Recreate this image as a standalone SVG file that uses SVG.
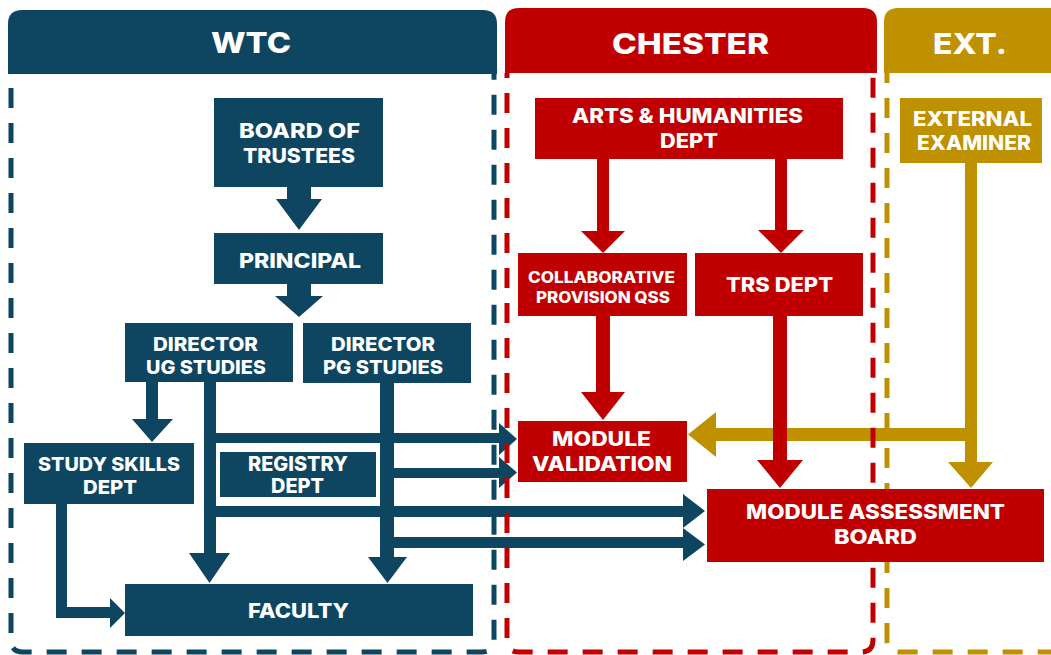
<svg xmlns="http://www.w3.org/2000/svg" width="1051" height="655" viewBox="0 0 1051 655">
  <style>
    .blue { fill: #0e4661; }
    .red { fill: #c00000; }
    .gold { fill: #bf9000; }
    .zone { fill: none; stroke-width: 5; stroke-dasharray: 20 15; }
    .t { font-family: Inter, "Liberation Sans", "DejaVu Sans", sans-serif; font-weight: 800; fill: #ffffff; text-anchor: middle; }
    .h { font-size: 29px; }
    .b { font-size: 20px; }
    .c { font-size: 19px; }
    .s { font-size: 15.5px; }
  </style>
  <rect width="1051" height="655" fill="#ffffff"/>

  <!-- connectors -->
  <g id="connectors">
    <!-- WTC internal flow -->
    <path class="blue" d="M287,187 H311 V199 H322 L299,230 L276,199 H287 Z"/>
    <path class="blue" d="M287,284 H311 V296 H323 L299,317 L275,296 H287 Z"/>
    <path class="blue" d="M146,382 H158 V419 H173 L152,442 L132,419 H146 Z"/>
    <path class="blue" d="M204,382 H216 V553 H230 L209.5,583 L189,553 H204 Z"/>
    <path class="blue" d="M380,383 H394 V557 H407 L387.5,583 L368,557 H380 Z"/>
    <path class="blue" d="M56,504 H67 V607 H110 V598 L125,613 L110,628 V618 H56 Z"/>
    <!-- WTC to Chester -->
    <path class="blue" d="M210,433 H499 V423 L517,439 L499,455 V443 H210 Z"/>
    <path class="blue" d="M390,468 H499 V457 L517,472.5 L499,488 V478 H390 Z"/>
    <path class="blue" d="M210,506 H683 V494 L705,511 L683,528 V517 H210 Z"/>
    <path class="blue" d="M390,537 H683 V528 L705,544.5 L683,561 V548 H390 Z"/>
    <!-- external examiner -->
    <path class="gold" d="M965,163 H977 V462 H993 L971,488 L948,462 H965 V441 H716 V457 L688,434.5 L716,412 V428 H965 Z"/>
    <!-- Chester internal flow -->
    <path class="red" d="M597,159 H609 V231 H625 L603,253 L581,231 H597 Z"/>
    <path class="red" d="M775,159 H787 V230 H804 L781,253 L758,230 H775 Z"/>
    <path class="red" d="M596,316 H610 V392 H625 L603,420 L581,392 H596 Z"/>
    <path class="red" d="M773,316 H787 V460 H803 L780,488 L757,460 H773 Z"/>
  </g>

  <!-- zone borders -->
  <g id="zones">
    <path class="zone" stroke="#0e4661" stroke-dashoffset="21" d="M11,74 V640 Q11,652 23,652 H482 Q494,652 494,640 V74"/>
    <path class="zone" stroke="#c00000" stroke-dashoffset="15" d="M507,73 V640 Q507,652 519,652 H861 Q873,652 873,640 V73"/>
    <path class="zone" stroke="#bf9000" stroke-dashoffset="10" d="M887,73 V640 Q887,652 899,652 H1070"/>
  </g>

  <!-- zone headers -->
  <g id="header-wtc">
    <path class="blue" d="M8,74 V24 Q8,10 22,10 H483 Q497,10 497,24 V74 Z"/>
    <text class="t h" x="251" y="53" textLength="80" lengthAdjust="spacingAndGlyphs">WTC</text>
  </g>
  <g id="header-chester">
    <path class="red" d="M505,73 V22 Q505,8 519,8 H863 Q877,8 877,22 V73 Z"/>
    <text class="t h" x="690.5" y="54" textLength="157" lengthAdjust="spacingAndGlyphs">CHESTER</text>
  </g>
  <g id="header-ext">
    <path class="gold" d="M884,73 V22 Q884,8 898,8 H1070 V73 Z"/>
    <text class="t h" x="970" y="54" textLength="74" lengthAdjust="spacingAndGlyphs">EXT.</text>
  </g>

  <!-- WTC nodes -->
  <g id="board-of-trustees">
    <rect class="blue" x="214" y="98" width="169" height="89"/>
    <text class="t b" x="299.5" y="138" textLength="121" lengthAdjust="spacingAndGlyphs">BOARD OF</text>
    <text class="t b" x="299" y="163" textLength="112" lengthAdjust="spacingAndGlyphs">TRUSTEES</text>
  </g>
  <g id="principal">
    <rect class="blue" x="214" y="233" width="169" height="51"/>
    <text class="t b" x="300" y="268" textLength="122" lengthAdjust="spacingAndGlyphs">PRINCIPAL</text>
  </g>
  <g id="director-ug">
    <rect class="blue" x="125" y="323" width="168" height="59"/>
    <text class="t c" x="205.5" y="351" textLength="105" lengthAdjust="spacingAndGlyphs">DIRECTOR</text>
    <text class="t c" x="206" y="373.5" textLength="120" lengthAdjust="spacingAndGlyphs">UG STUDIES</text>
  </g>
  <g id="director-pg">
    <rect class="blue" x="303" y="323" width="168" height="60"/>
    <text class="t c" x="383" y="351" textLength="104" lengthAdjust="spacingAndGlyphs">DIRECTOR</text>
    <text class="t c" x="383" y="373.5" textLength="120" lengthAdjust="spacingAndGlyphs">PG STUDIES</text>
  </g>
  <g id="study-skills">
    <rect class="blue" x="24" y="443" width="170" height="61"/>
    <text class="t c" x="109" y="471" textLength="142" lengthAdjust="spacingAndGlyphs">STUDY SKILLS</text>
    <text class="t c" x="110" y="493.5" textLength="54" lengthAdjust="spacingAndGlyphs">DEPT</text>
  </g>
  <g id="registry">
    <rect class="blue" x="220" y="452" width="156" height="45"/>
    <text class="t b" x="298" y="471" textLength="100" lengthAdjust="spacingAndGlyphs">REGISTRY</text>
    <text class="t b" x="297.5" y="493" textLength="53" lengthAdjust="spacingAndGlyphs">DEPT</text>
  </g>
  <g id="faculty">
    <rect class="blue" x="125" y="584" width="348" height="52"/>
    <text class="t b" x="298.5" y="618" textLength="101" lengthAdjust="spacingAndGlyphs">FACULTY</text>
  </g>

  <!-- Chester nodes -->
  <g id="arts-humanities">
    <rect class="red" x="535" y="98" width="308" height="61"/>
    <text class="t b" x="687.5" y="123" textLength="231" lengthAdjust="spacingAndGlyphs">ARTS &amp; HUMANITIES</text>
    <text class="t b" x="689" y="148" textLength="58" lengthAdjust="spacingAndGlyphs">DEPT</text>
  </g>
  <g id="collaborative-provision">
    <rect class="red" x="518" y="253" width="169" height="63"/>
    <text class="t s" x="601.5" y="283" textLength="147" lengthAdjust="spacingAndGlyphs">COLLABORATIVE</text>
    <text class="t s" x="603" y="303" textLength="134" lengthAdjust="spacingAndGlyphs">PROVISION QSS</text>
  </g>
  <g id="trs-dept">
    <rect class="red" x="695" y="253" width="168" height="63"/>
    <text class="t b" x="779.5" y="292" textLength="107" lengthAdjust="spacingAndGlyphs">TRS DEPT</text>
  </g>
  <g id="module-validation">
    <rect class="red" x="518" y="421" width="169" height="61"/>
    <text class="t b" x="601.5" y="446" textLength="99" lengthAdjust="spacingAndGlyphs">MODULE</text>
    <text class="t b" x="602" y="471" textLength="140" lengthAdjust="spacingAndGlyphs">VALIDATION</text>
  </g>
  <g id="module-assessment-board">
    <rect class="red" x="707" y="489" width="337" height="73"/>
    <text class="t b" x="875.5" y="519" textLength="259" lengthAdjust="spacingAndGlyphs">MODULE ASSESSMENT</text>
    <text class="t b" x="875.5" y="544" textLength="83" lengthAdjust="spacingAndGlyphs">BOARD</text>
  </g>

  <!-- external node -->
  <g id="external-examiner">
    <rect class="gold" x="900" y="98" width="142" height="65"/>
    <text class="t b" x="972.5" y="126" textLength="119" lengthAdjust="spacingAndGlyphs">EXTERNAL</text>
    <text class="t b" x="974" y="150" textLength="114" lengthAdjust="spacingAndGlyphs">EXAMINER</text>
  </g>
</svg>
